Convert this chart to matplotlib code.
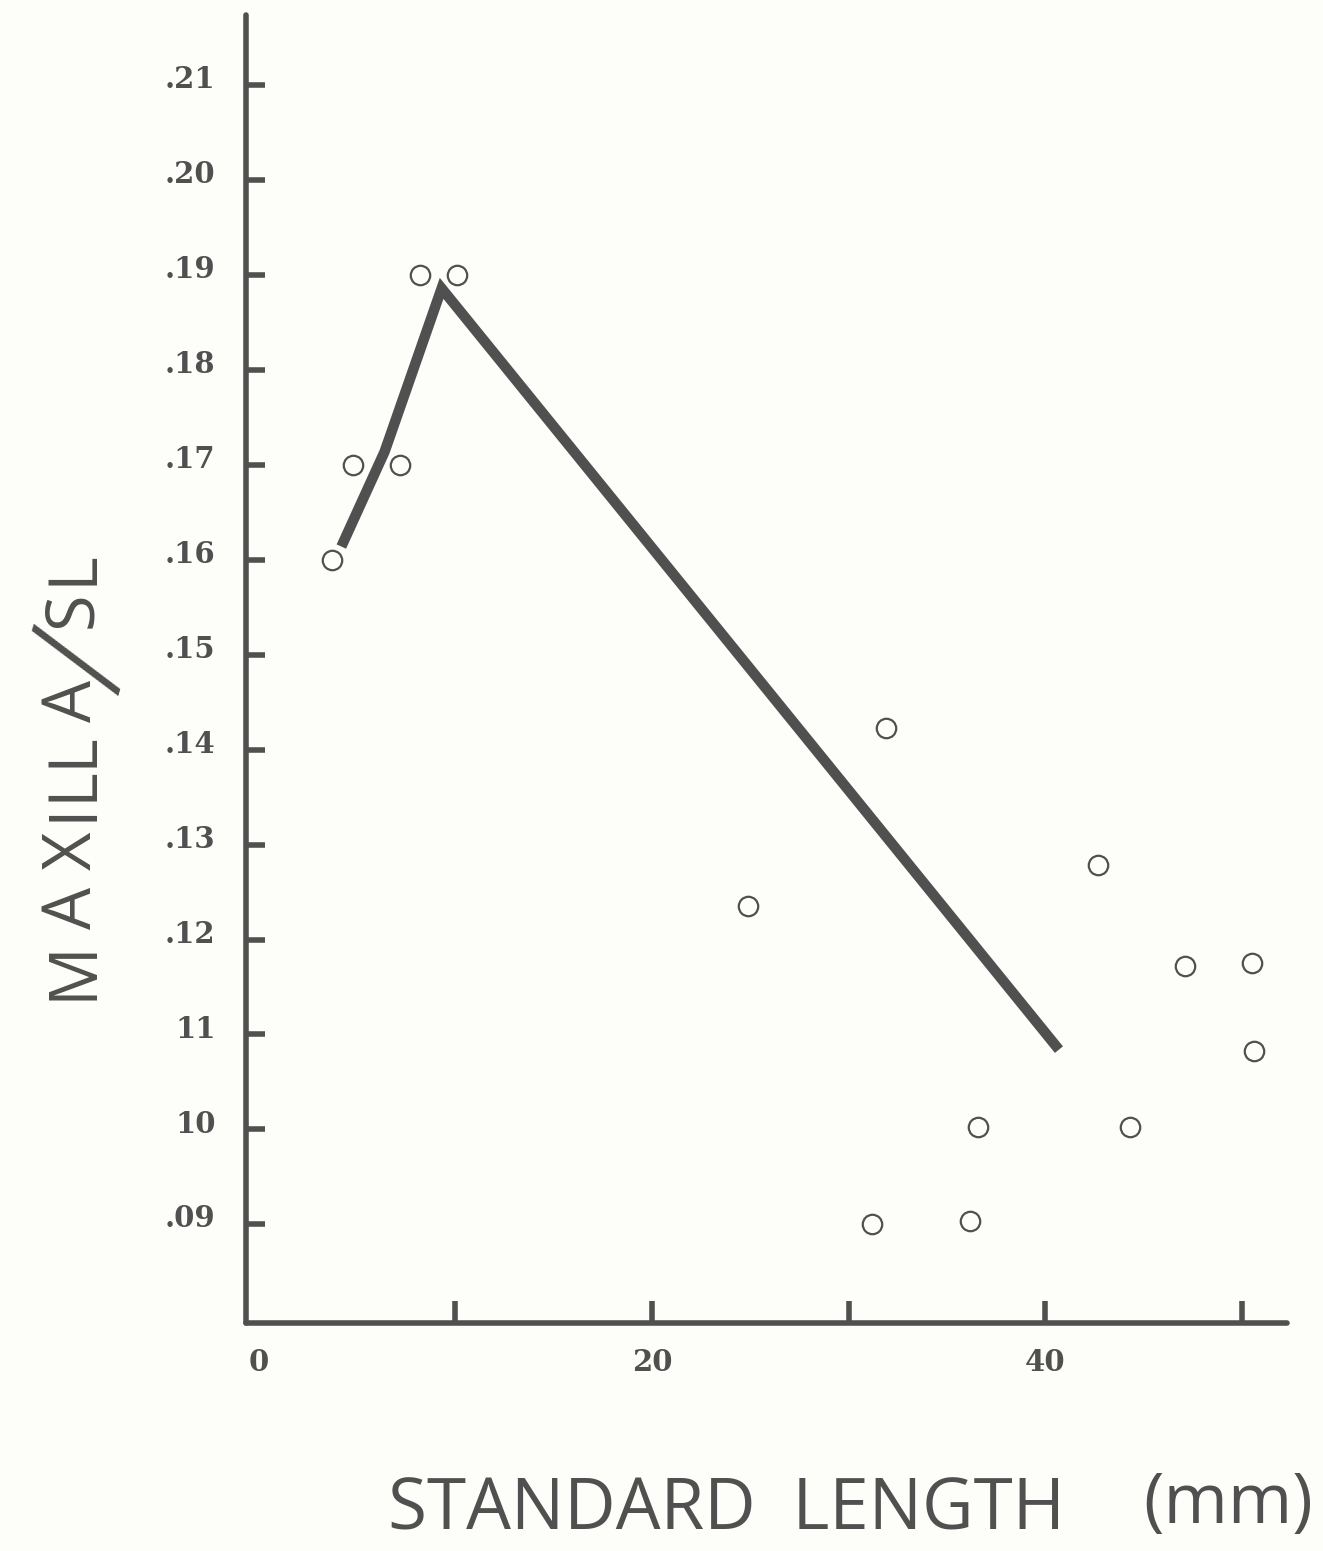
import matplotlib
matplotlib.use("Agg")
import matplotlib.pyplot as plt
from matplotlib.transforms import ScaledTranslation

# Observed specimens: standard length (mm) vs maxilla / SL ratio
sl_mm = [3.7, 4.8, 7.2, 8.2, 10.1, 24.9, 31.9, 31.2, 36.2, 36.6, 42.7, 44.3, 47.1, 50.5, 50.6]
ratio = [0.160, 0.170, 0.170, 0.190, 0.190, 0.1235, 0.1423, 0.090, 0.0903, 0.1002,
         0.1278, 0.1003, 0.1172, 0.1175, 0.1083]

# Hand-fitted trend line
trend_x = [4.2, 6.4, 9.3, 40.7]
trend_y = [0.1614, 0.1714, 0.1886, 0.1084]

y_ticks = [0.21, 0.20, 0.19, 0.18, 0.17, 0.16, 0.15, 0.14, 0.13, 0.12, 0.11, 0.10, 0.09]
y_labels = [".21", ".20", ".19", ".18", ".17", ".16", ".15", ".14", ".13", ".12", "11", "10", ".09"]
x_ticks = [10, 20, 30, 40, 50]
x_label_vals = [0, 20, 40]

ink = "#505050"
paper = "#fdfdf9"
W, H = 1323, 1551

fig = plt.figure(figsize=(W / 100, H / 100), dpi=100, facecolor=paper)
ax = fig.add_axes([246 / W, 1 - 1323 / H, (1287 - 246) / W, (1323 - 15) / H], facecolor=paper)

ax.set_xlim(-0.65, 52.3)
ax.set_ylim(0.0796, 0.2174)

ax.plot(trend_x, trend_y, color=ink, lw=7.5, solid_capstyle="butt", solid_joinstyle="miter", zorder=2)
ax.plot(sl_mm, ratio, linestyle="none", marker="o", markersize=14, markerfacecolor="none",
        markeredgecolor=ink, markeredgewidth=1.6, zorder=3)

for side in ("top", "right"):
    ax.spines[side].set_visible(False)
for side in ("left", "bottom"):
    ax.spines[side].set_color(ink)
    ax.spines[side].set_linewidth(4)
    ax.spines[side].set_capstyle("round")

ax.set_yticks(y_ticks)
ax.set_yticklabels(y_labels)
ax.set_xticks(x_ticks)
ax.set_xticklabels([])
ax.tick_params(axis="y", direction="in", length=14, width=4, color=ink, pad=22,
               labelsize=21, labelcolor=ink)
ax.tick_params(axis="x", direction="in", length=16, width=4, color=ink)
lift = ScaledTranslation(0, 6 / 72, fig.dpi_scale_trans)
for lab in ax.get_yticklabels():
    lab.set_fontfamily("DejaVu Serif")
    lab.set_fontweight("bold")
    lab.set_transform(lab.get_transform() + lift)

for v in x_label_vals:
    ax.annotate(str(v), xy=(v, 0.0796), xycoords="data", xytext=(0, -18), textcoords="offset points",
                ha="center", va="top", fontsize=21, fontweight="bold", family="DejaVu Serif", color=ink)

# Horizontal axis title
fig.text(388 / W, 1 - 1530 / H, "STANDARD  LENGTH", fontsize=51, family="Open Sans", color=ink,
         ha="left", va="baseline")
fig.text(1313 / W, 1 - 1523 / H, "(mm)", fontsize=50, family="Open Sans",
         color=ink, ha="right", va="baseline")

# Vertical axis title, letter-spaced
ylab_chars = ["M", "A", "X", "I", "L", "L", "A", "S", "L"]
ylab_pos = [970, 908, 851, 812, 784, 750, 701, 610, 568]
for ch, py in zip(ylab_chars, ylab_pos):
    fig.text(91 / W, 1 - py / H, ch, fontsize=48, family="Open Sans", color=ink,
             rotation=90, rotation_mode="anchor", ha="center", va="baseline")
fig.text(89 / W, 1 - 662 / H, "/", fontsize=103, family="Open Sans", fontweight="light", color=ink,
         rotation=73.5, rotation_mode="anchor", ha="center", va="center")

fig.savefig("out.png", dpi=100, facecolor=paper)
